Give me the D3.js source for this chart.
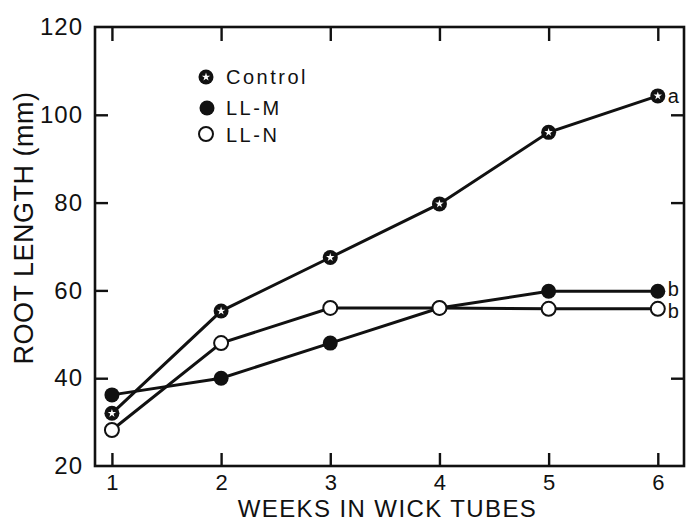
<!DOCTYPE html>
<html>
<head>
<meta charset="utf-8">
<script src="https://cdn.jsdelivr.net/npm/d3@7/dist/d3.min.js"></script>
<style>
  html, body { margin: 0; padding: 0; background: #fff; }
  svg { display: block; }
  text { font-family: "Liberation Sans", Arial, Helvetica, sans-serif; fill: #111; }
</style>
</head>
<body>
<svg id="chart" width="688" height="522"></svg>
<script>
const weeks = [1, 2, 3, 4, 5, 6];
const control = [32, 55.3, 67.5, 79.7, 96, 104.3];
const llM = [36.2, 40, 48, 56, 59.8, 59.8];
const llN = [28.2, 48, 56, 56, 55.8, 55.8];
const seriesNames = ["Control", "LL-M", "LL-N"];
const endLabels = ["a", "b", "b"];
const yTicks = [20, 40, 60, 80, 100, 120];
const xTitle = "WEEKS IN WICK TUBES";
const yTitle = "ROOT LENGTH (mm)";

const series = [
  { name: seriesNames[0], values: control, type: "star", label: endLabels[0], dy: 7 },
  { name: seriesNames[1], values: llM, type: "filled", label: endLabels[1], dy: 5 },
  { name: seriesNames[2], values: llN, type: "open", label: endLabels[2], dy: 9 }
];

const svg = d3.select("#chart");
const L = 95, R = 684, T = 27, B = 466;
const x = d3.scaleLinear().domain([0.845, 6.24]).range([L, R]);
const y = d3.scaleLinear().domain([20, 120]).range([B, T]);
const ink = "#111";

// frame
svg.append("rect").attr("x", L).attr("y", T).attr("width", R - L).attr("height", B - T)
  .attr("fill", "none").attr("stroke", ink).attr("stroke-width", 2.6);

// axes
const fmtAxis = g => { g.select(".domain").remove(); g.selectAll("line").attr("stroke", ink).attr("stroke-width", 2.4); };

svg.append("g").attr("transform", `translate(${L},0)`)
  .call(d3.axisLeft(y).tickValues(yTicks).tickSize(-13).tickSizeOuter(0).tickPadding(12))
  .call(fmtAxis)
  .call(g => g.selectAll(".tick").filter(d => d === 20 || d === 120).select("line").remove())
  .call(g => g.selectAll("text").attr("font-size", 24).attr("fill", ink).attr("letter-spacing", 1));

svg.append("g").attr("transform", `translate(${R},0)`)
  .call(d3.axisRight(y).tickValues([40, 80, 100]).tickSize(-13).tickSizeOuter(0).tickFormat(""))
  .call(fmtAxis);

svg.append("g").attr("transform", `translate(0,${B})`)
  .call(d3.axisBottom(x).tickValues(weeks).tickSize(-13).tickSizeOuter(0).tickPadding(8).tickFormat(d3.format("d")))
  .call(fmtAxis)
  .call(g => g.selectAll("text").attr("font-size", 22).attr("fill", ink));

svg.append("g").attr("transform", `translate(0,${T})`)
  .call(d3.axisTop(x).tickValues(weeks).tickSize(-14).tickSizeOuter(0).tickFormat(""))
  .call(fmtAxis);

// titles
svg.append("text").attr("x", (L + R) / 2 - 2).attr("y", 517).attr("text-anchor", "middle")
  .attr("font-size", 24).attr("letter-spacing", 1.4).text(xTitle);
svg.append("text").attr("transform", `translate(33,228) rotate(-90)`).attr("text-anchor", "middle")
  .attr("font-size", 27).attr("letter-spacing", 0.5).text(yTitle);

// lines
const line = d3.line().x((d, i) => x(weeks[i])).y(d => y(d));
series.forEach(s => {
  svg.append("path").datum(s.values).attr("d", line)
    .attr("fill", "none").attr("stroke", ink).attr("stroke-width", 3);
});

const r = 7.5;
const star = d3.symbol().type(d3.symbolStar).size(22);
function marker(g, type, cx, cy) {
  if (type === "open") {
    g.append("circle").attr("cx", cx).attr("cy", cy).attr("r", r - 0.5)
      .attr("fill", "#fff").attr("stroke", ink).attr("stroke-width", 2);
  } else {
    g.append("circle").attr("cx", cx).attr("cy", cy).attr("r", r).attr("fill", ink);
    if (type === "star") {
      g.append("path").attr("d", star).attr("transform", `translate(${cx},${cy})`).attr("fill", "#fff");
    }
  }
}

series.forEach(s => {
  const g = svg.append("g");
  s.values.forEach((v, i) => marker(g, s.type, x(weeks[i]), y(v)));
  svg.append("text").attr("x", x(weeks[5]) + 10).attr("y", y(s.values[5]) + s.dy)
    .attr("font-size", 20).text(s.label);
});

// legend
const legendPos = [[206, 77, 84], [207, 108, 115], [206, 134, 142]];
series.forEach((s, i) => {
  const g = svg.append("g");
  marker(g, s.type, legendPos[i][0], legendPos[i][1]);
  g.append("text").attr("x", 226).attr("y", legendPos[i][2]).attr("font-size", 20)
    .attr("letter-spacing", 2.5).text(s.name);
});
</script>
</body>
</html>
